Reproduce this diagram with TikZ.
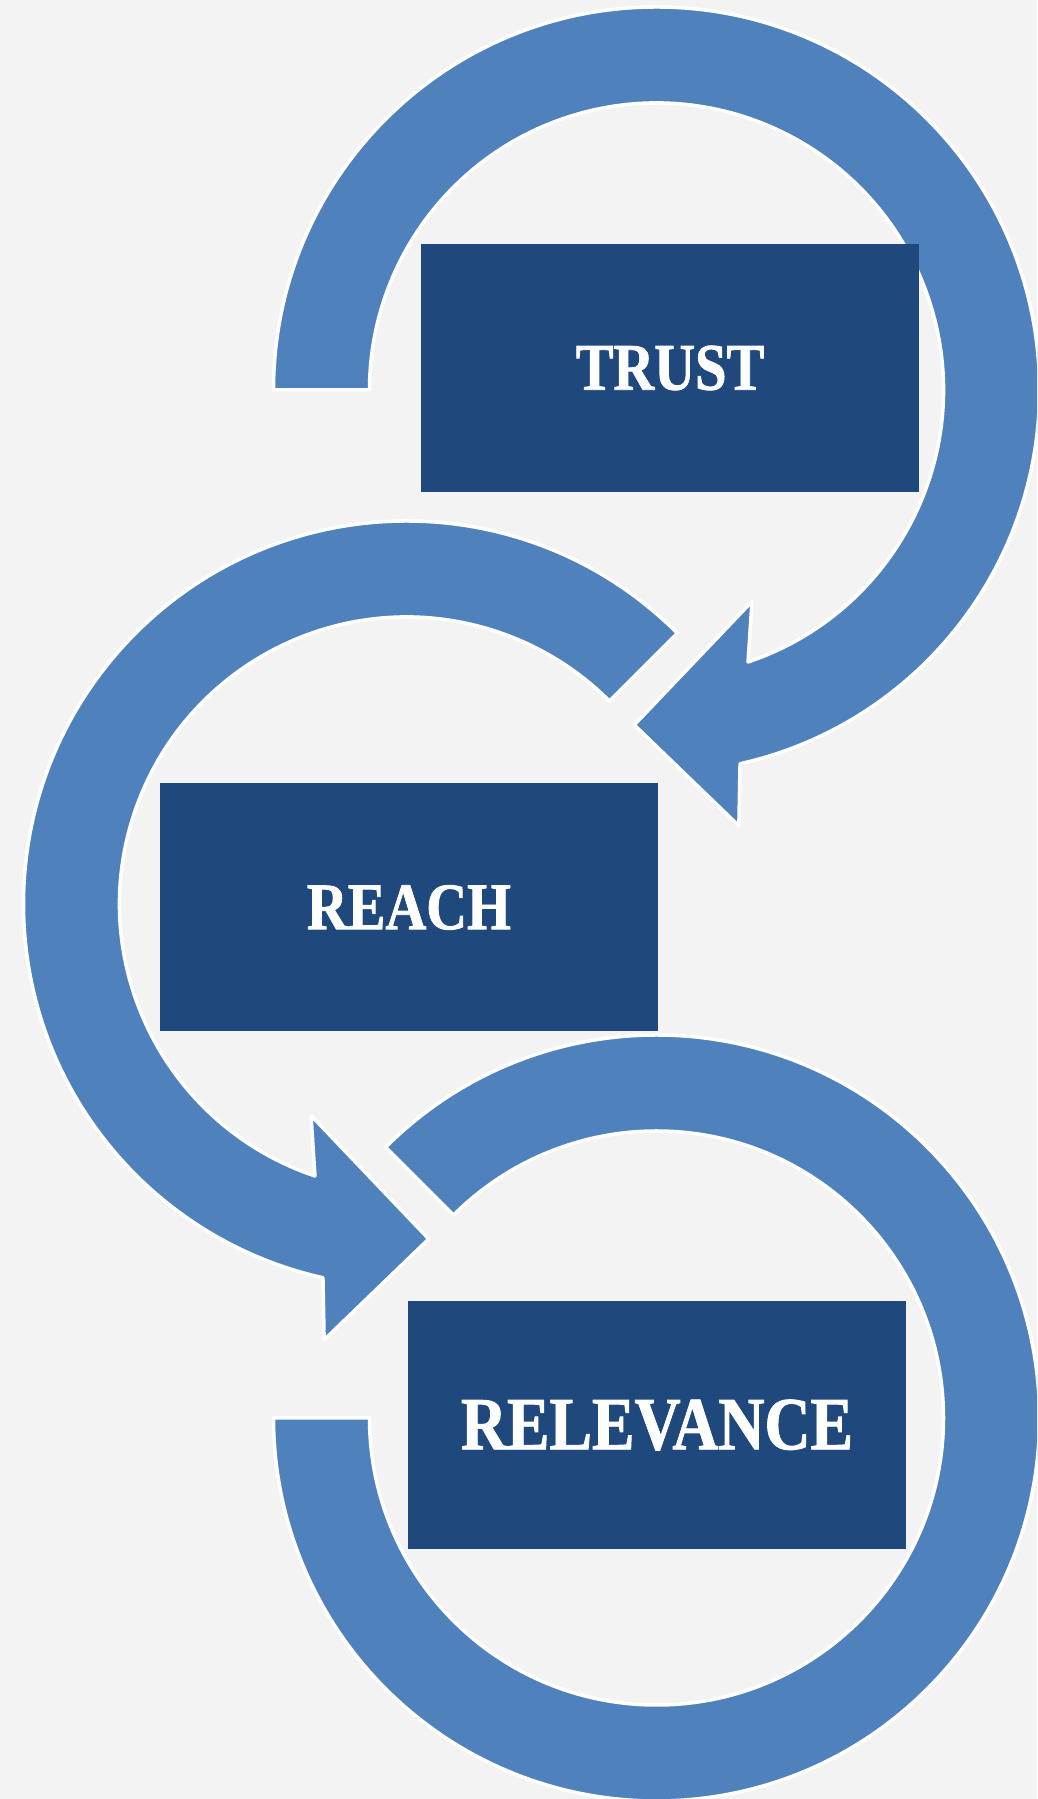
\documentclass[tikz,border=0pt]{standalone}
\usepackage{fontspec}
\newfontfamily\stagefont{Liberation Serif Bold}[FakeStretch=0.85, FakeBold=1.2]
\definecolor{xback}{RGB}{242,243,242}
\definecolor{xarc}{RGB}{79,129,189}
\definecolor{xbox}{RGB}{31,73,125}
\tikzset{
  arcband/.style={fill=xarc, draw=white, line width=3.5pt, line join=round},
  stagebox/.style={rectangle, fill=xbox, text=white, inner sep=0pt,
    minimum width=498pt, minimum height=248pt,
    font=\stagefont\fontsize{66.5}{70}\selectfont}
}

\begin{document}
\begin{tikzpicture}[x=1pt, y=1pt]
	\def \ro {383}
	\def \ri {287}
	\useasboundingbox (0,0) rectangle (1037,1799);
	\fill[xback] (0,0) rectangle (1037,1799);
	\clip (0,0) rectangle (1037,1799);
	\coordinate (ctop) at (656.5,1409);
	\coordinate (cmid) at (406.5,895);
	\coordinate (cbot) at (656.5,381);
	\begin{scope}[shift={(ctop)}]
		\draw[arcband] (180:\ro) arc[start angle=180, end angle=-77.4, radius=\ro]
			-- (-79.3:443.6) -- (-93.8:335.7) -- (-65.7:232) -- (-71.4:\ri)
			arc[start angle=-71.4, end angle=180, radius=\ri] -- cycle;
	\end{scope}
	\begin{scope}[shift={(cmid)}]
		\draw[arcband] (45:\ro) arc[start angle=45, end angle=257.4, radius=\ro]
			-- (259.3:443.6) -- (273.8:335.7) -- (245.7:232) -- (251.4:\ri)
			arc[start angle=251.4, end angle=45, radius=\ri] -- cycle;
	\end{scope}
	\begin{scope}[shift={(cbot)}]
		\draw[arcband] (135:\ro) arc[start angle=135, end angle=-180, radius=\ro]
			-- (180:\ri) arc[start angle=-180, end angle=135, radius=\ri] -- cycle;
	\end{scope}
	\node[stagebox] at (670,1431) (trust) {TRUST};
	\node[stagebox] at (409,891.5) (reach) {REACH};
	\node[stagebox, font=\stagefont\fontsize{75}{80}\selectfont] at (657,374) (relevance) {RELEVANCE};
\end{tikzpicture}
\end{document}
